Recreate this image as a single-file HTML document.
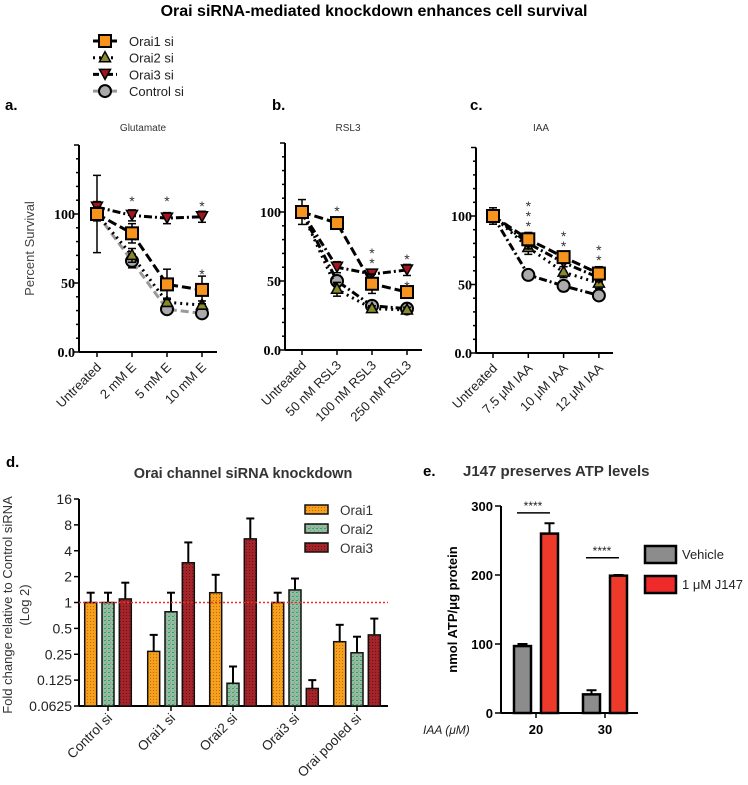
<!DOCTYPE html>
<html><head><meta charset="utf-8"><style>
body{margin:0;background:#fff}
svg{display:block;font-family:"Liberation Sans",sans-serif}
</style></head><body>
<svg id="fig" width="748" height="785" viewBox="0 0 748 785">
<defs>
<pattern id="pOr" width="3" height="3" patternUnits="userSpaceOnUse"><rect width="3" height="3" fill="#f7a01e"/><rect width="1" height="1" fill="#c06a00"/></pattern>
<pattern id="pGr" width="4" height="4" patternUnits="userSpaceOnUse"><rect width="4" height="4" fill="#8fbfa0"/><rect width="2" height="1" fill="#3aa35a"/><rect x="2" y="2" width="1" height="2" fill="#9a9a9a"/></pattern>
<pattern id="pRd" width="3" height="3" patternUnits="userSpaceOnUse"><rect width="3" height="3" fill="#a3252a"/><rect width="1" height="1" fill="#6e1015"/></pattern>
</defs>
<text x="374" y="16" text-anchor="middle" font-size="16" font-weight="bold">Orai siRNA-mediated knockdown enhances cell survival</text>
<g id="legendTop"></g>
<g id="panels"></g>
</svg>
<script>
// ---- Panels a-c data ----
const catsA = ["Untreated","2 mM E","5 mM E","10 mM E"];
const catsB = ["Untreated","50 nM RSL3","100 nM RSL3","250 nM RSL3"];
const catsC = ["Untreated","7.5 μM IAA","10 μM IAA","12 μM IAA"];
const aOrai1 = [100,86,49,45], aOrai2 = [100,70,36,34], aOrai3 = [105,99,97,98], aCtrl = [100,66,31,28];
const aErr1 = [5,7,11,10], aErr2 = [4,5,3,3], aErr3 = [4,4,4,4], aErrC = [28,5,3,2];
const bOrai1 = [100,92,48,42], bOrai2 = [100,44,30,29], bOrai3 = [100,60,55,58], bCtrl = [100,50,32,30];
const bErr1 = [9,3,7,3], bErr2 = [4,5,2,2], bErr3 = [4,4,3,4], bErrC = [4,4,2,2];
const cOrai1 = [100,83,70,58], cOrai2 = [100,77,59,51], cOrai3 = [100,80,66,55], cCtrl = [100,57,49,42];
const cErr1 = [6,5,4,5], cErr2 = [4,5,4,4], cErr3 = [4,4,3,3], cErrC = [4,3,4,3];
const yTicksSurv = [0,50,100];
const starsA = [null,"*","*","*"], starsA2 = [null,null,null,"*"];
const starsB = [null,"*","*\n*","*"], starsB2 = [null,null,null,"*"];
const starsC = [null,"*\n*\n*","*\n*","*\n*"];
// ---- Panel d data ----
const dGroups = ["Control si","Orai1 si","Orai2 si","Orai3 si","Orai pooled si"];
const dOrai1 = [1.0,0.27,1.3,1.0,0.35];
const dOrai2 = [1.0,0.78,0.115,1.4,0.26];
const dOrai3 = [1.1,2.9,5.5,0.1,0.42];
const dErr1 = [1.3,0.42,2.1,1.3,0.55];
const dErr2 = [1.3,1.3,0.18,1.9,0.40];
const dErr3 = [1.7,5.0,9.5,0.125,0.65];
const dTicks = ["0.0625","0.125","0.25","0.5","1","2","4","8","16"];
// ---- Panel e data ----
const eCats = ["20","30"];
const eVeh = [97,27], eJ = [260,199];
const eVehErr = [100,33], eJErr = [275,200];
const eSig = [290,225];
const eTicks = [0,100,200,300];

const NS="http://www.w3.org/2000/svg";
const root=document.getElementById('panels');
function mk(tag,attrs,parent){const e=document.createElementNS(NS,tag);for(const k in attrs)e.setAttribute(k,attrs[k]);(parent||root).appendChild(e);return e;}
function txt(s,attrs,parent){const t=mk('text',attrs,parent);t.textContent=s;return t;}

const styles=[
 {name:'orai1',dash:'9,4',stroke:'#000',marker:'sq',fill:'#f7941d'},
 {name:'orai2',dash:'2,4',stroke:'#000',marker:'tri',fill:'#8a8a2a'},
 {name:'orai3',dash:'8,3,2,3',stroke:'#000',marker:'itri',fill:'#a3141c'},
 {name:'control',dash:'8,4',stroke:'#999',marker:'circ',fill:'#aaa'}];
function marker(g,st,x,y){
 let m;
 if(st.marker==='sq')m=mk('rect',{x:x-6,y:y-6,width:12,height:12,fill:st.fill,stroke:'#000','stroke-width':2},g);
 else if(st.marker==='tri')m=mk('polygon',{points:`${x},${y-6} ${x-5.5},${y+4} ${x+5.5},${y+4}`,fill:st.fill,stroke:'#000','stroke-width':1.5},g);
 else if(st.marker==='itri')m=mk('polygon',{points:`${x},${y+5} ${x-5.5},${y-5} ${x+5.5},${y-5}`,fill:st.fill,stroke:'#000','stroke-width':1.5},g);
 else m=mk('circle',{cx:x,cy:y,r:6,fill:st.fill,stroke:'#000','stroke-width':2},g);
 return m;
}
const lg=document.getElementById('legendTop');
const lgLabels=["Orai1 si","Orai2 si","Orai3 si","Control si"];
lgLabels.forEach((l,i)=>{const y=41+i*16.7;const st=styles[i];
 const g=mk('g',{},lg);
 
 
 mk('line',{x1:93,x2:117,y1:y,y2:y,stroke:st.stroke,'stroke-width':3,'stroke-dasharray':i===1?'2,4':(i===2?'6,3,2,3':'none')},g);
 marker(g,st,105,y);
 txt(l,{x:129,y:y+5,'font-size':13,fill:'#222'},g);
});

function linePanel(o){
 const g=mk('g',{});
 
 
 const Y=v=>o.y0-(v/100)*(o.y0-o.y100);
 const X=i=>o.xs[0]+i*(o.xs[1]-o.xs[0]);
 txt(o.id+'.',{x:o.lx,y:o.ly,'font-size':15,'font-weight':'bold'},g);
 txt(o.title,{x:o.tx,y:131,'font-size':10,'text-anchor':'middle',fill:'#333'},g);
 const top=Y(150);
 mk('line',{x1:o.ax,x2:o.ax,y1:top,y2:o.y0,stroke:'#000','stroke-width':2},g);
 mk('line',{x1:o.ax,x2:o.xend,y1:o.y0,y2:o.y0,stroke:'#000','stroke-width':2},g);
 for(let v=0;v<=150;v+=10){const big=v%50===0;mk('line',{x1:o.ax-(big?5:3),x2:o.ax,y1:Y(v),y2:Y(v),stroke:'#000','stroke-width':1.5},g);}
 yTicksSurv.forEach(v=>txt(v===0?'0.0':String(v),{x:o.ax-4,y:Y(v)+5,'font-size':14,'font-weight':'bold','font-family':'Liberation Serif, serif','text-anchor':'end'},g));
 o.cats.forEach((c,i)=>{mk('line',{x1:X(i),x2:X(i),y1:o.y0,y2:o.y0+5,stroke:'#000','stroke-width':1.5},g);
  txt(c,{x:X(i)+5,y:o.y0+16,'font-size':13,'text-anchor':'end',transform:`rotate(-45 ${X(i)+5} ${o.y0+16})`,fill:'#222'},g);});
 if(o.ylabel)txt('Percent Survival',{x:0,y:0,'font-size':13,'text-anchor':'middle',fill:'#444',transform:`translate(34 ${Y(75)}) rotate(-90)`},g);
 const order=[3,1,2,0];
 order.forEach(si=>{const st=styles[si];const vals=o.series[si],errs=o.errs[si];
  const sg=mk('g',{},g);
  
  
  const pts=vals.map((v,i)=>`${X(i)},${Y(v)}`).join(' ');
  mk('polyline',{points:pts,fill:'none',stroke:si===3&&o.id!=='a'?'#000':st.stroke,'stroke-width':3,'stroke-dasharray':si===3&&o.id!=='a'?'8,3,2,3':st.dash},sg);
  vals.forEach((v,i)=>{const x=X(i);
   mk('line',{x1:x,x2:x,y1:Y(v-errs[i]),y2:Y(v+errs[i]),stroke:'#000','stroke-width':1.5},sg);
   mk('line',{x1:x-4,x2:x+4,y1:Y(v+errs[i]),y2:Y(v+errs[i]),stroke:'#000','stroke-width':1.5},sg);
   mk('line',{x1:x-4,x2:x+4,y1:Y(v-errs[i]),y2:Y(v-errs[i]),stroke:'#000','stroke-width':1.5},sg);
   const m=marker(sg,st,x,Y(v));
   
   
  });
 });
 o.stars.forEach((s,i)=>{if(!s)return;const lines=s.split('\n');const yb=o.starY[i];
  lines.forEach((l,k)=>txt(l,{x:X(i),y:yb+k*10,'font-size':14,'text-anchor':'middle',fill:'#333'},g));});
 if(o.stars2)o.stars2.forEach((s,i)=>{if(!s)return;txt(s,{x:X(i),y:o.star2Y[i],'font-size':14,'text-anchor':'middle',fill:'#333'},g);});
}
linePanel({id:'a',title:'Glutamate',tx:143,lx:5,ly:110,ax:79,xend:217,y0:352,y100:214,xs:[97,132],cats:catsA,ylabel:true,
 series:[aOrai1,aOrai2,aOrai3,aCtrl],errs:[aErr1,aErr2,aErr3,aErrC],stars:starsA,starY:[0,206,206,211],stars2:starsA2,star2Y:[0,0,0,279]});
linePanel({id:'b',title:'RSL3',tx:348,lx:272,ly:110,ax:285,xend:422,y0:350,y100:212,xs:[302,337],cats:catsB,
 series:[bOrai1,bOrai2,bOrai3,bCtrl],errs:[bErr1,bErr2,bErr3,bErrC],stars:starsB,starY:[0,216,258,264],stars2:starsB2,star2Y:[0,0,0,291]});
linePanel({id:'c',title:'IAA',tx:541,lx:470,ly:110,ax:476,xend:613,y0:353,y100:216,xs:[493,528.3],cats:catsC,
 series:[cOrai1,cOrai2,cOrai3,cCtrl],errs:[cErr1,cErr2,cErr3,cErrC],stars:starsC,starY:[0,211,241,255]});

// ---- Panel d ----
(function(){
 const g=mk('g',{});
 
 
 const ax=79,y0=706,ytop=499,xend=388;
 const Y=v=>y0-(Math.log2(v)+4)*(y0-ytop)/8;
 const gx=[108,171,233,295,357];
 txt('d.',{x:6,y:467,'font-size':15,'font-weight':'bold'},g);
 txt('Orai channel siRNA knockdown',{x:243,y:478,'font-size':14.5,'font-weight':'bold','text-anchor':'middle',fill:'#333'},g);
 mk('line',{x1:ax,x2:ax,y1:ytop,y2:y0,stroke:'#000','stroke-width':2},g);
 mk('line',{x1:ax,x2:xend,y1:y0,y2:y0,stroke:'#000','stroke-width':2},g);
 dTicks.forEach(t=>{const v=parseFloat(t);mk('line',{x1:ax-5,x2:ax,y1:Y(v),y2:Y(v),stroke:'#000','stroke-width':1.5},g);
  txt(t,{x:ax-7,y:Y(v)+5,'font-size':14,'text-anchor':'end',fill:'#222'},g);});
 txt('Fold change relative to Control siRNA',{x:0,y:0,'font-size':13,'text-anchor':'middle',fill:'#333',transform:'translate(12 605) rotate(-90)'},g);
 txt('(Log 2)',{x:0,y:0,'font-size':13,'text-anchor':'middle',fill:'#333',transform:'translate(29 605) rotate(-90)'},g);
 const ser=[[dOrai1,dErr1,'url(#pOr)','orai1'],[dOrai2,dErr2,'url(#pGr)','orai2'],[dOrai3,dErr3,'url(#pRd)','orai3']];
 dGroups.forEach((name,gi)=>{
  mk('line',{x1:gx[gi],x2:gx[gi],y1:y0,y2:y0+5,stroke:'#000','stroke-width':1.5},g);
  txt(name,{x:gx[gi]+5,y:y0+13,'font-size':13.5,'text-anchor':'end',fill:'#222',transform:`rotate(-45 ${gx[gi]+5} ${y0+13})`},g);
  ser.forEach((s,si)=>{const cx=gx[gi]+(si-1)*17.3,v=s[0][gi],e=s[1][gi];
   mk('line',{x1:cx,x2:cx,y1:Y(v),y2:Y(e),stroke:'#000','stroke-width':2},g);
   mk('line',{x1:cx-4,x2:cx+4,y1:Y(e),y2:Y(e),stroke:'#000','stroke-width':2},g);
   const r=mk('rect',{x:cx-6,y:Y(v),width:12,height:y0-Y(v),fill:s[2],stroke:'#111','stroke-width':1.5},g);
   
   
  });
 });
 mk('line',{x1:ax,x2:xend,y1:Y(1),y2:Y(1),stroke:'#e8312a','stroke-width':1.5,'stroke-dasharray':'2,2'},g);
 [['Orai1','url(#pOr)'],['Orai2','url(#pGr)'],['Orai3','url(#pRd)']].forEach((l,i)=>{const y=510+i*19;
  const lgE=mk('g',{},g);
  
  
  mk('rect',{x:305,y:y-5,width:23,height:9,fill:l[1],stroke:'#111','stroke-width':1.5},lgE);
  txt(l[0],{x:340,y:y+5,'font-size':13.5,fill:'#333'},lgE);});
})();

// ---- Panel e ----
(function(){
 const g=mk('g',{});
 
 
 const ax=501,y0=713,ytop=506,xend=638;
 const Y=v=>y0-v*(y0-ytop)/300;
 const cx=[536,605];
 txt('e.',{x:423,y:476,'font-size':15,'font-weight':'bold'},g);
 txt('J147 preserves ATP levels',{x:463,y:476,'font-size':15,'font-weight':'bold',fill:'#333'},g);
 mk('line',{x1:ax,x2:ax,y1:ytop,y2:y0,stroke:'#000','stroke-width':2},g);
 mk('line',{x1:ax,x2:xend,y1:y0,y2:y0,stroke:'#000','stroke-width':2},g);
 eTicks.forEach(t=>{mk('line',{x1:ax-6,x2:ax,y1:Y(t),y2:Y(t),stroke:'#000','stroke-width':1.5},g);
  txt(String(t),{x:ax-8,y:Y(t)+5,'font-size':13,'font-weight':'bold','text-anchor':'end'},g);});
 txt('nmol ATP/μg protein',{x:0,y:0,'font-size':13,'font-weight':'bold','text-anchor':'middle',transform:`translate(457 ${Y(150)}) rotate(-90)`},g);
 txt('IAA (μM)',{x:423,y:734,'font-size':12,'font-style':'italic',fill:'#222'},g);
 eCats.forEach((c,i)=>{
  mk('line',{x1:cx[i],x2:cx[i],y1:y0,y2:y0+5,stroke:'#000','stroke-width':1.5},g);
  txt(c,{x:cx[i],y:734,'font-size':13,'font-weight':'bold','text-anchor':'middle'},g);
  [[eVeh,eVehErr,'#8c8c8c',-13.5,'vehicle'],[eJ,eJErr,'#ee3a2a',13.5,'j147']].forEach(s=>{
   const x=cx[i]+s[3],v=s[0][i],e=s[1][i];
   mk('line',{x1:x,x2:x,y1:Y(v),y2:Y(e),stroke:'#000','stroke-width':2},g);
   mk('line',{x1:x-5,x2:x+5,y1:Y(e),y2:Y(e),stroke:'#000','stroke-width':2},g);
   const r=mk('rect',{x:x-8.5,y:Y(v),width:17,height:y0-Y(v),fill:s[2],stroke:'#000','stroke-width':2.5},g);
   
   
  });
  const sy=Y(eSig[i]);
  mk('line',{x1:cx[i]-19,x2:cx[i]+14,y1:sy,y2:sy,stroke:'#000','stroke-width':1.5},g);
  txt('****',{x:cx[i]-3,y:sy-3,'font-size':12,'text-anchor':'middle',fill:'#222'},g);
 });
 [['Vehicle','#8c8c8c'],['1 μM J147','#ee2a2a']].forEach((l,i)=>{const y=554+i*30;
  const lgE=mk('g',{},g);
  
  
  mk('rect',{x:645,y:y-8,width:31,height:17,fill:l[1],stroke:'#000','stroke-width':2.5},lgE);
  txt(l[0],{x:682,y:y+5,'font-size':13,fill:'#222'},lgE);});
})();
</script>
</body></html>
